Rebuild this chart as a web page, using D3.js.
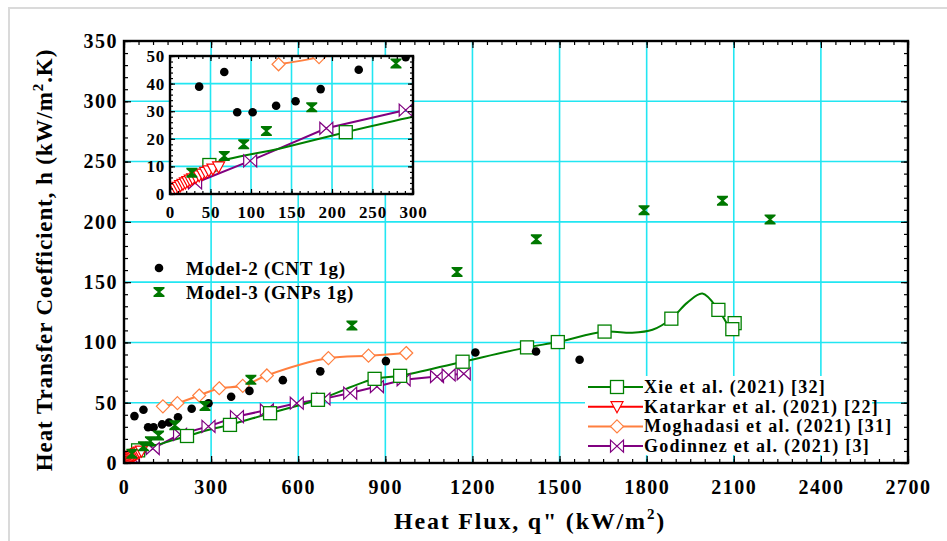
<!DOCTYPE html>
<html>
<head>
<meta charset="utf-8">
<script src="https://cdn.jsdelivr.net/npm/d3@7"></script>
<style>
body { margin: 0; background: #fff; }
text { font-family: "Liberation Serif", "Times New Roman", serif; font-weight: bold; }
</style>
</head>
<body>
<div id="chart"></div>
<script>
// ---- data ----
var xTicks = [0, 300, 600, 900, 1200, 1500, 1800, 2100, 2400, 2700];
var yTicks = [0, 50, 100, 150, 200, 250, 300, 350];
var insetXTicks = [0, 50, 100, 150, 200, 250, 300];
var insetYTicks = [0, 10, 20, 30, 40, 50];

// Model-2 (CNT 1g)
var cntX = [36, 67, 83, 102, 131, 155, 186, 233, 291, 369, 432, 547, 676, 902, 1210, 1419, 1569];
var cntY = [38.9, 44.2, 29.6, 29.6, 32, 33.6, 38, 45, 49.6, 55, 59.8, 68.7, 76, 84.5, 91.7, 92.5, 85.6];

// Model-3 (GNPs 1g)
var gnpX = [27, 67, 91, 119, 175, 279, 437, 785, 1147, 1420, 1791, 2061, 2225];
var gnpY = [7.7, 13.8, 18, 22.8, 31.4, 47.3, 69, 114, 158.5, 185.5, 209.7, 217.5, 202];

// Xie et al. (2021) [32] - curve and its markers
var xieX = [2, 48.6, 136, 217, 300, 365, 503, 668, 863, 951, 1166, 1388, 1494, 1655, 1750, 1820, 1885, 1940, 1992, 2047, 2080, 2095];
var xieY = [1, 10.5, 16.5, 22.4, 28, 31.6, 41.3, 52.4, 69.8, 72.3, 84, 95.9, 100.3, 109, 108, 110.5, 119.7, 133, 140.5, 127, 114.5, 111];
var xieMarkX = [48.6, 217, 365, 503, 668, 863, 951, 1166, 1388, 1494, 1655, 1885, 2047, 2103, 2095];
var xieMarkY = [10.5, 22.4, 31.6, 41.3, 52.4, 69.8, 72.3, 84, 95.9, 100.3, 109, 119.7, 127, 116, 111];

// Katarkar et al. (2021) [22]
var katX = [4, 7, 10, 13, 16, 19, 22, 25, 28, 32, 36, 40, 44, 48, 53, 60];
var katY = [1.2, 1.8, 2.4, 3, 3.5, 4, 4.5, 5, 5.5, 6, 6.6, 7.2, 7.8, 8.4, 9, 9.8];

// Moghadasi et al. (2021) [31]
var mogX = [134, 184, 259, 328, 409, 492, 704, 842, 972];
var mogY = [47, 49.6, 56, 62, 64, 72.6, 87, 89, 91.2];

// Godinnez et al. (2021) [3]
var godX = [31, 99, 193, 291, 389, 492, 595, 687, 779, 871, 963, 1078, 1118, 1170];
var godY = [4, 12, 23.8, 30.4, 38.5, 44, 49.6, 53.2, 58, 63.4, 69, 71.7, 73, 74];

var pointLegend = ["Model-2 (CNT 1g)", "Model-3 (GNPs 1g)"];
var lineLegend = ["Xie et al. (2021) [32]", "Katarkar et al. (2021) [22]", "Moghadasi et al. (2021) [31]", "Godinnez et al. (2021) [3]"];

// ---- layout ----
var width = 947, height = 541;
var ml = 124, mr = 908, mt = 41, mb = 463;
var il = 170, ir = 413, it = 56, ib = 194;

var GREEN = "#008000", HOUR = "#007800", RED = "#ff0000", ORANGE = "#ff7f3f", PURPLE = "#800080", CYAN = "#22e6f2";

var svg = d3.select("#chart").append("svg")
    .attr("width", width).attr("height", height);

svg.append("rect").attr("x", 9).attr("y", 8).attr("width", 960).attr("height", 560)
    .attr("fill", "none").attr("stroke", "#dadada").attr("stroke-width", 2);

var x = d3.scaleLinear().domain([0, 2700]).range([ml, mr]);
var y = d3.scaleLinear().domain([0, 350]).range([mb, mt]);
var xi = d3.scaleLinear().domain([0, 300]).range([il, ir]);
var yi = d3.scaleLinear().domain([0, 50]).range([ib, it]);

function zip(a, b) { return a.map(function(v, i) { return [v, b[i]]; }); }

// marker shapes
function marker(sel, kind) {
    if (kind === "dot") {
        sel.append("circle").attr("r", 4.3).attr("fill", "#000");
    } else if (kind === "hour") {
        sel.append("path").attr("d", "M-5.5,-5H5.5V-3.6L1.2,0L5.5,3.6V5H-5.5V3.6L-1.2,0L-5.5,-3.6Z")
            .attr("fill", HOUR);
    } else if (kind === "square") {
        sel.append("rect").attr("x", -6.5).attr("y", -6.5).attr("width", 13).attr("height", 13)
            .attr("fill", "#fff").attr("stroke", GREEN).attr("stroke-width", 1.3);
    } else if (kind === "tri") {
        sel.append("path").attr("d", "M-6,-5H6L0,6Z")
            .attr("fill", "#fff").attr("stroke", RED).attr("stroke-width", 1.2);
    } else if (kind === "diamond") {
        sel.append("path").attr("d", "M0,-6.5L6.5,0L0,6.5L-6.5,0Z")
            .attr("fill", "#fff").attr("stroke", ORANGE).attr("stroke-width", 1.2);
    } else if (kind === "bow") {
        sel.append("path").attr("d", "M-6.5,-6L6.5,6V-6L-6.5,6Z")
            .attr("fill", "#fff").attr("stroke", PURPLE).attr("stroke-width", 1.2);
    }
}

function points(g, sx, sy, xs, ys, kind) {
    g.selectAll(null).data(zip(xs, ys)).enter().append("g")
        .attr("transform", function(d) { return "translate(" + sx(d[0]) + "," + sy(d[1]) + ")"; })
        .each(function() { marker(d3.select(this), kind); });
}

function curve(g, sx, sy, xs, ys, color, smooth) {
    var line = d3.line().x(function(d) { return sx(d[0]); }).y(function(d) { return sy(d[1]); })
        .curve(smooth ? d3.curveCatmullRom.alpha(0.5) : d3.curveLinear);
    g.append("path").datum(zip(xs, ys)).attr("d", line)
        .attr("fill", "none").attr("stroke", color).attr("stroke-width", 2);
}

function drawSeries(g, sx, sy) {
    curve(g, sx, sy, godX, godY, PURPLE, false);
    curve(g, sx, sy, mogX, mogY, ORANGE, true);
    curve(g, sx, sy, xieX, xieY, GREEN, true);
    curve(g, sx, sy, katX, katY, RED, false);
    points(g, sx, sy, godX, godY, "bow");
    points(g, sx, sy, mogX, mogY, "diamond");
    points(g, sx, sy, xieMarkX, xieMarkY, "square");
    points(g, sx, sy, katX, katY, "tri");
    points(g, sx, sy, cntX, cntY, "dot");
    points(g, sx, sy, gnpX, gnpY, "hour");
}

function grid(g, sx, sy, xv, yv, x0, x1, y0, y1) {
    g.selectAll(null).data(xv.slice(1, -1)).enter().append("line")
        .attr("x1", sx).attr("x2", sx).attr("y1", y0).attr("y2", y1)
        .attr("stroke", CYAN).attr("stroke-width", 1.6);
    g.selectAll(null).data(yv.slice(1, -1)).enter().append("line")
        .attr("y1", sy).attr("y2", sy).attr("x1", x0).attr("x2", x1)
        .attr("stroke", CYAN).attr("stroke-width", 1.6);
}

function tickAxis(axis, tr, size) {
    var g = svg.append("g").attr("transform", tr).call(axis.tickSize(size).tickFormat(""));
    g.select(".domain").remove();
    g.selectAll("line").attr("stroke", "#000").attr("stroke-width", 1.2);
    return g;
}

function frameTicks(sx, sy, xv, yv, xMinor, yMinor, x0, x1, y0, y1, big, small) {
    [[xMinor, small], [xv, big]].forEach(function(p) {
        tickAxis(d3.axisBottom(sx).tickValues(p[0]), "translate(0," + y1 + ")", -p[1]);
        tickAxis(d3.axisTop(sx).tickValues(p[0]), "translate(0," + y0 + ")", -p[1]);
    });
    [[yMinor, small], [yv, big]].forEach(function(p) {
        tickAxis(d3.axisLeft(sy).tickValues(p[0]), "translate(" + x0 + ",0)", -p[1]);
        tickAxis(d3.axisRight(sy).tickValues(p[0]), "translate(" + x1 + ",0)", -p[1]);
    });
    svg.append("rect").attr("x", x0).attr("y", y0).attr("width", x1 - x0).attr("height", y1 - y0)
        .attr("fill", "none").attr("stroke", "#000").attr("stroke-width", 2.4);
}

function labelAxis(axis, tr, pad, fs, ls) {
    var g = svg.append("g").attr("transform", tr)
        .call(axis.tickSize(0).tickPadding(pad).tickFormat(d3.format("d")));
    g.select(".domain").remove();
    g.selectAll("text").attr("font-size", fs).attr("letter-spacing", ls).attr("fill", "#000");
    return g;
}

// ---- main plot ----
var gMain = svg.append("g");
grid(gMain, x, y, xTicks, yTicks, ml, mr, mt, mb);

svg.append("clipPath").attr("id", "clipMain").append("rect")
    .attr("x", ml).attr("y", mt).attr("width", mr - ml).attr("height", mb - mt);
drawSeries(svg.append("g").attr("clip-path", "url(#clipMain)"), x, y);

frameTicks(x, y, xTicks, yTicks, d3.range(0, 2701, 50), d3.range(0, 351, 10), ml, mr, mt, mb, 7, 4);
labelAxis(d3.axisBottom(x).tickValues(xTicks), "translate(0," + mb + ")", 17, 20, 1.5);
labelAxis(d3.axisLeft(y).tickValues(yTicks), "translate(" + ml + ",0)", 6, 20, 1.5);

// axis titles
var yt = svg.append("text").attr("transform", "translate(52," + 260 + ") rotate(-90)")
    .attr("text-anchor", "middle").attr("font-size", 23).attr("letter-spacing", 0.9);
yt.append("tspan").text("Heat Transfer Coefficient, h (kW/m");
yt.append("tspan").attr("dy", -9).attr("font-size", 15).text("2");
yt.append("tspan").attr("dy", 9).text(".K)");

var xt = svg.append("text").attr("x", 530).attr("y", 529)
    .attr("text-anchor", "middle").attr("font-size", 24).attr("letter-spacing", 1.8);
xt.append("tspan").text("Heat Flux, q\" (kW/m");
xt.append("tspan").attr("dy", -10).attr("font-size", 15).text("2");
xt.append("tspan").attr("dy", 10).text(")");

// ---- legend with points ----
var kinds1 = ["dot", "hour"];
pointLegend.forEach(function(t, i) {
    var yy = 268 + i * 24;
    var m = svg.append("g").attr("transform", "translate(159," + yy + ")");
    marker(m, kinds1[i]);
    svg.append("text").attr("x", 186).attr("y", yy + 6.5).attr("font-size", 19)
        .attr("letter-spacing", 0.7).text(t);
});

// ---- legend with lines ----
svg.append("rect").attr("x", 585).attr("y", 376).attr("width", 287).attr("height", 79).attr("fill", "#fff");
var legColors = [GREEN, RED, ORANGE, PURPLE];
var legKinds = ["square", "tri", "diamond", "bow"];
lineLegend.forEach(function(t, i) {
    var yy = 387 + i * 19.7;
    svg.append("line").attr("x1", 588).attr("x2", 643).attr("y1", yy).attr("y2", yy)
        .attr("stroke", legColors[i]).attr("stroke-width", 2);
    var m = svg.append("g").attr("transform", "translate(617," + yy + ")");
    marker(m, legKinds[i]);
    svg.append("text").attr("x", 644).attr("y", yy + 6).attr("font-size", 18)
        .attr("letter-spacing", 1.25).text(t);
});

// ---- inset ----
svg.append("rect").attr("x", il).attr("y", it).attr("width", ir - il).attr("height", ib - it).attr("fill", "#fff");
grid(svg.append("g"), xi, yi, insetXTicks, insetYTicks, il, ir, it, ib);
svg.append("clipPath").attr("id", "clipInset").append("rect")
    .attr("x", il).attr("y", it).attr("width", ir - il).attr("height", ib - it);
drawSeries(svg.append("g").attr("clip-path", "url(#clipInset)"), xi, yi);
frameTicks(xi, yi, insetXTicks, insetYTicks, d3.range(0, 301, 10), d3.range(0, 51, 2), il, ir, it, ib, 5, 3);
labelAxis(d3.axisBottom(xi).tickValues(insetXTicks), "translate(0," + ib + ")", 12, 17, 0.8);
labelAxis(d3.axisLeft(yi).tickValues(insetYTicks), "translate(" + il + ",0)", 5, 17, 0.8);
</script>
</body>
</html>
